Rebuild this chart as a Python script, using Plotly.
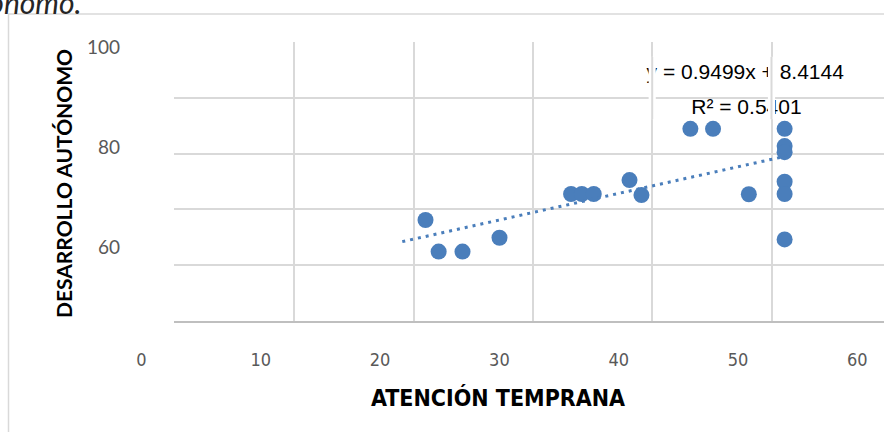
import numpy as np
import plotly.graph_objects as go

# ---------------- data ----------------
atencion = [21.0, 22.1, 24.1, 27.2, 33.2, 34.1, 35.1, 38.1, 39.1,
            43.2, 45.1, 48.1, 51.1, 51.1, 51.1, 51.1, 51.1, 51.1]
desarrollo = [36.1, 24.7, 24.7, 29.7, 45.5, 45.5, 45.5, 50.5, 45.1,
              69.0, 69.0, 45.4, 69.0, 62.8, 60.6, 49.9, 45.5, 29.1]

trend_x_span = [19.05, 51.3]
trend_slope = 0.96
trend_intercept = 10.0

x_tick_labels = [0, 10, 20, 30, 40, 50, 60]
y_tick_labels = [60, 80, 100]

eq_text = "y = 0.9499x + 8.4144"
r2_text = "R² = 0.5401"

title_fragment = "Desarrollo Autónomo."
x_title = "ATENCIÓN TEMPRANA"
y_title = "DESARROLLO AUTÓNOMO"

# ---------------- styling ----------------
W, H = 884, 432
BLUE = "#4a7ebb"
GRID = "#d9d9d9"
TICK_COL = "#595959"
FONT = "Lato, Liberation Sans, sans-serif"
NARROW = "Liberation Sans Narrow, DejaVu Sans Condensed, Lato, sans-serif"


def fx(px):
    return px / W


def fy(py):
    return (H - py) / H


fig = go.Figure()

# data points
fig.add_trace(go.Scatter(
    x=atencion, y=desarrollo, mode="markers",
    marker=dict(color=BLUE, size=16, line=dict(width=0)),
    showlegend=False, hoverinfo="skip"))

# linear trendline
tx = np.array(trend_x_span)
ty = trend_intercept + trend_slope * tx
fig.add_trace(go.Scatter(
    x=tx, y=ty, mode="lines",
    line=dict(color=BLUE, width=3, dash="3px,5px"),
    showlegend=False, hoverinfo="skip"))

# trendline label (text trace so grid bands can sit above it)
fig.add_trace(go.Scatter(
    x=[47.8, 47.9], y=[89.0, 76.4], mode="text",
    text=[eq_text, r2_text], textposition="middle center",
    textfont=dict(family="Liberation Sans, Arial, sans-serif", size=21, color="#000000"),
    showlegend=False, hoverinfo="skip"))

# invisible trace carrying the (misaligned) label axes
fig.add_trace(go.Scatter(x=[None], y=[None], xaxis="x2", yaxis="y2",
                         showlegend=False, hoverinfo="skip"))

# gridline "halo" where the grid crosses the label text
shapes = []
for gx in (40, 50):
    shapes.append(dict(type="rect", xref="x", yref="y", x0=gx - 0.3, x1=gx + 0.3,
                       y0=72.5, y1=95, fillcolor="white", line=dict(width=0), layer="above"))
    shapes.append(dict(type="line", xref="x", yref="y", x0=gx, x1=gx, y0=72.5, y1=95,
                       line=dict(color=GRID, width=2), layer="above"))
# outer chart frame
shapes.append(dict(type="rect", xref="paper", yref="paper",
                   x0=fx(8.5), x1=fx(W + 10), y0=fy(H + 10), y1=fy(14),
                   line=dict(color=GRID, width=1.5), fillcolor="rgba(0,0,0,0)", layer="below"))

fig.update_layout(
    width=W, height=H, autosize=False,
    margin=dict(l=0, r=0, t=0, b=0, pad=0),
    paper_bgcolor="white", plot_bgcolor="rgba(0,0,0,0)",
    showlegend=False,
    xaxis=dict(domain=[fx(174), 1.0], range=[-0.084, 59.43],
               tick0=0, dtick=10, showgrid=True, gridcolor=GRID, gridwidth=2,
               showticklabels=False, ticks="", zeroline=False,
               showline=True, linecolor="#bfbfbf", linewidth=2),
    yaxis=dict(domain=[fy(321), fy(42)], range=[-0.36, 100.36],
               tick0=0, dtick=20, showgrid=True, gridcolor=GRID, gridwidth=2,
               showticklabels=False, ticks="", zeroline=False, showline=False),
    xaxis2=dict(domain=[fx(120), 1.0], range=[(120 - 141.5) / 11.93, (884 - 141.5) / 11.93],
                anchor="free", position=fy(347), tickmode="array",
                tickvals=x_tick_labels, ticktext=[str(v) for v in x_tick_labels],
                showgrid=False, zeroline=False, showline=False, ticks="",
                tickfont=dict(family=NARROW, size=18, color=TICK_COL)),
    yaxis2=dict(domain=[fy(300), fy(20)], range=[100 - (300 - 47) / 5.0, 100 - (20 - 47) / 5.0],
                anchor="free", position=fx(120), tickmode="array",
                tickvals=y_tick_labels, ticktext=[str(v) for v in y_tick_labels],
                showgrid=False, zeroline=False, showline=False, ticks="",
                tickfont=dict(family=FONT, size=19, color=TICK_COL)),
    shapes=shapes,
    annotations=[
        dict(text=title_fragment, xref="paper", yref="paper", x=fx(84), y=fy(2),
             xanchor="right", yanchor="middle", showarrow=False,
             font=dict(family=FONT, size=30, color="#262626", style="italic")),
        dict(text=y_title, xref="paper", yref="paper", x=fx(63), y=fy(184),
             xanchor="center", yanchor="middle", textangle=-90, showarrow=False,
             font=dict(family=FONT, size=21, color="#000000", weight="bold")),
        dict(text=x_title, xref="paper", yref="paper", x=fx(498), y=fy(397),
             xanchor="center", yanchor="middle", showarrow=False,
             font=dict(family=NARROW, size=23, color="#000000", weight="bold")),
    ],
)

fig.write_html("out.html", config={"displayModeBar": False},
               post_script="document.body.style.margin='0';document.body.style.overflow='hidden';")
